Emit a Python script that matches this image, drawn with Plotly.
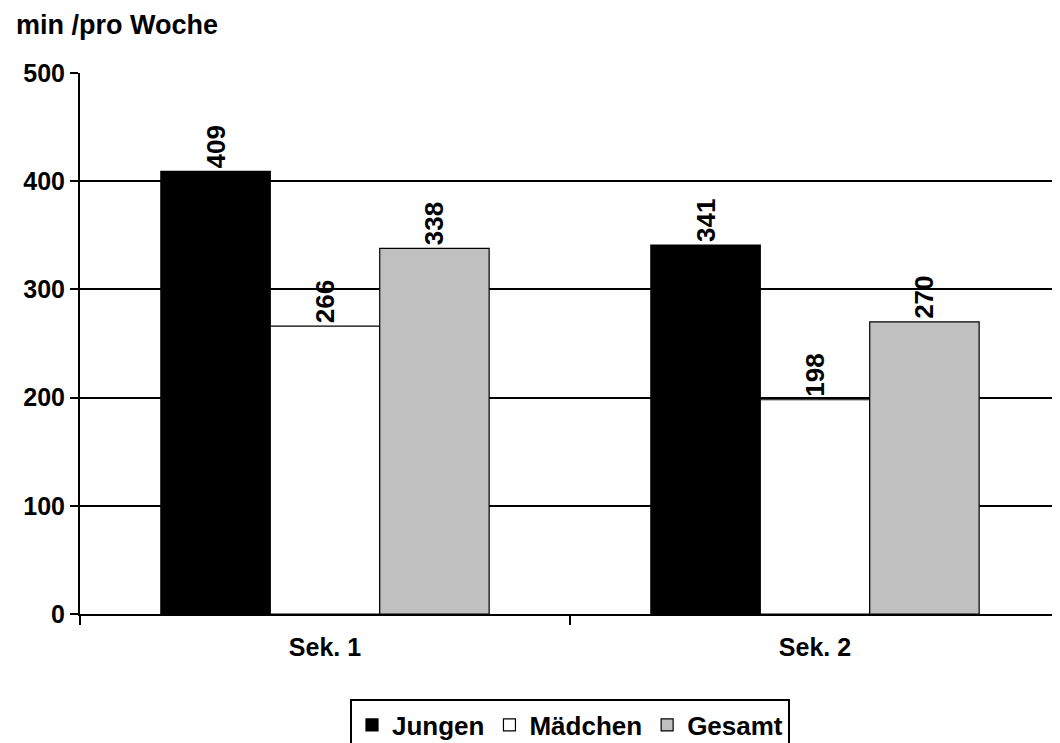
import plotly.graph_objects as go

categories = ["Sek. 1", "Sek. 2"]
jungen = [409, 341]
maedchen = [266, 198]
gesamt = [338, 270]
y_ticks = [0, 100, 200, 300, 400, 500]

FONT = "Liberation Sans, Arial, sans-serif"

fig = go.Figure()
series = [
    ("Jungen", jungen, "#000000"),
    ("Mädchen", maedchen, "#FFFFFF"),
    ("Gesamt", gesamt, "#C0C0C0"),
]
for name, vals, col in series:
    fig.add_trace(go.Bar(
        name=name, x=categories, y=vals,
        marker=dict(color=col, line=dict(color="#000000", width=1.2)),
        text=[str(v) for v in vals], textposition="outside", textangle=-90,
        textfont=dict(family=FONT, size=26, color="#000000", weight="bold"),
        cliponaxis=False,
    ))

fig.update_layout(
    width=1052, height=735,
    margin=dict(l=72, r=0, t=65, b=129, autoexpand=False),
    paper_bgcolor="white", plot_bgcolor="white",
    barmode="group", bargap=0.33, bargroupgap=0,
    font=dict(family=FONT, size=20, color="#000000"),
    showlegend=True,
    legend=dict(
        orientation="h", x=0.5, xanchor="center", y=-0.158, yanchor="top",
        bordercolor="#000000", borderwidth=2,
        font=dict(family=FONT, size=26, color="#000000", weight="bold"),
        itemwidth=30, traceorder="normal",
    ),
    uniformtext=dict(mode=False),
)
fig.update_yaxes(
    range=[0, 500], tickvals=y_ticks, showgrid=True, gridcolor="#000000", gridwidth=1.5,
    showline=True, linecolor="#000000", linewidth=2, ticks="outside", ticklen=8,
    tickcolor="#000000", tickwidth=2, zeroline=False, automargin=False,
    tickfont=dict(family=FONT, size=25, color="#000000", weight="bold"),
)
fig.update_xaxes(
    showline=True, linecolor="#000000", linewidth=2, ticks="outside", ticklen=9,
    tickson="boundaries", tickcolor="#000000", tickwidth=2, automargin=False,
    ticklabelstandoff=10,
    tickfont=dict(family=FONT, size=25, color="#000000", weight="bold"),
)
fig.add_annotation(
    text="min /pro Woche", xref="paper", yref="paper", x=-0.0673, y=1.0887,
    xanchor="left", yanchor="middle", showarrow=False,
    font=dict(family=FONT, size=27, color="#000000", weight="bold"),
)

fig.write_html("out.html")
